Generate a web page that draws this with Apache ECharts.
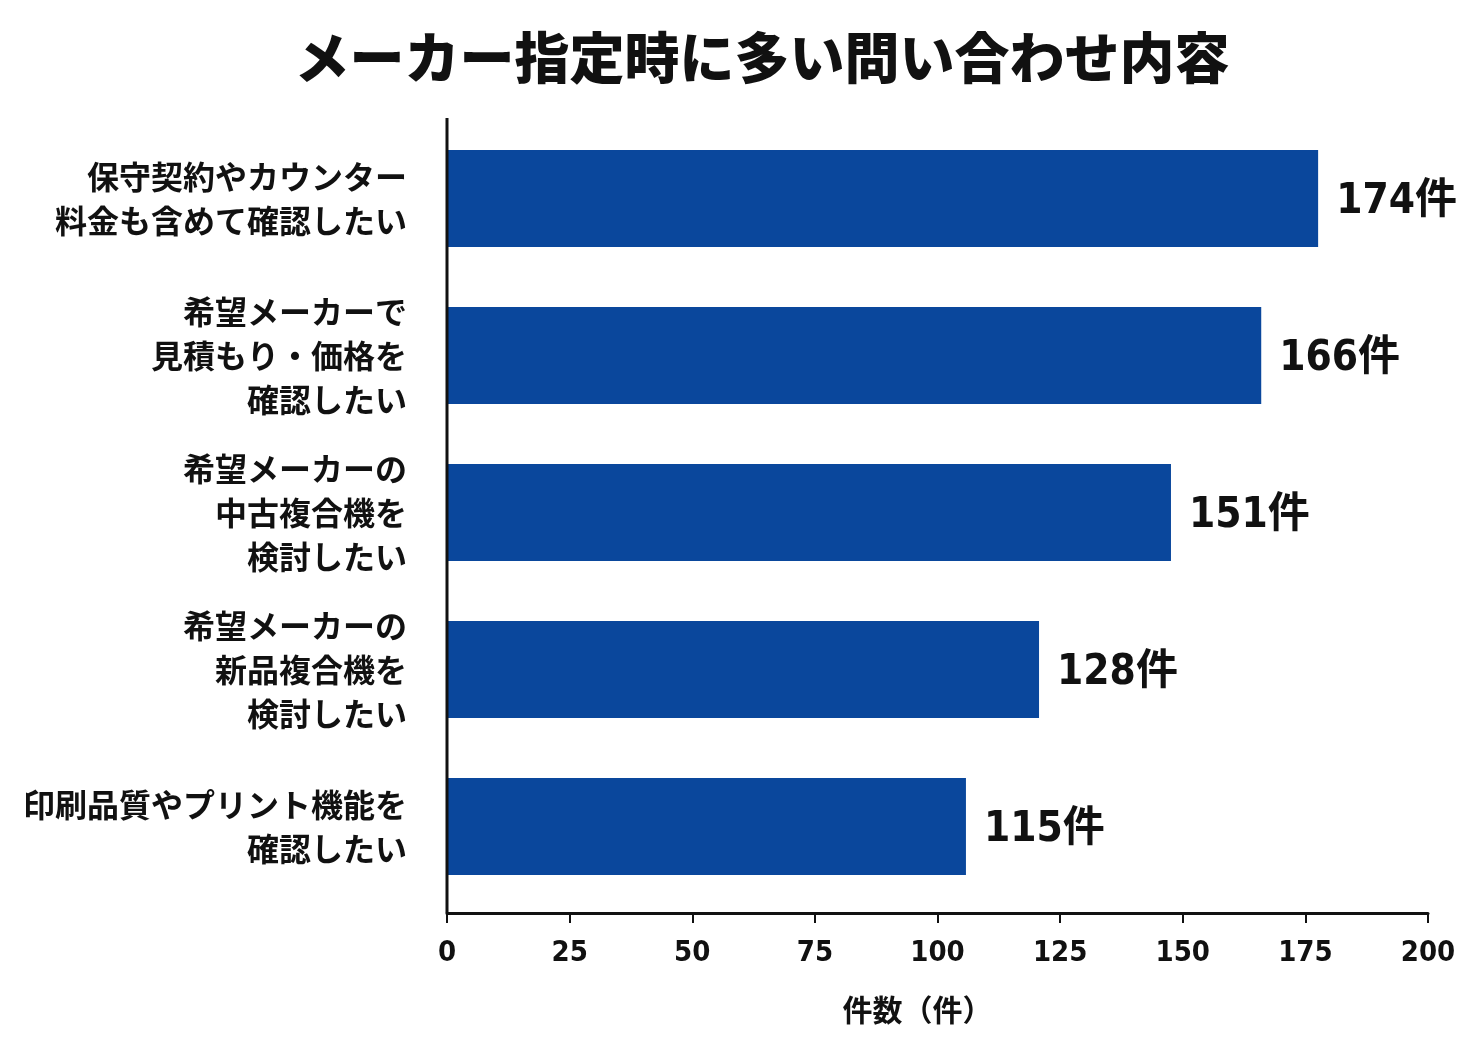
<!DOCTYPE html>
<html><head><meta charset="utf-8">
<script src="https://cdn.jsdelivr.net/npm/echarts@6/dist/echarts.min.js"></script>
<style>html,body{margin:0;padding:0;background:#fff}#c{width:1484px;height:1060px}</style>
</head><body><div id="c"></div>
<script>
const categories = [
  '保守契約やカウンター\n料金も含めて確認したい',
  '希望メーカーで\n見積もり・価格を\n確認したい',
  '希望メーカーの\n中古複合機を\n検討したい',
  '希望メーカーの\n新品複合機を\n検討したい',
  '印刷品質やプリント機能を\n確認したい'
];
const barValues = [177.6, 166, 147.6, 120.7, 105.8];
const countLabels = [174, 166, 151, 128, 115];
const xTicks = [0, 25, 50, 75, 100, 125, 150, 175, 200];

const jp = '"Noto Sans CJK JP", "Noto Sans", sans-serif';
const num = '"DejaVu Sans Condensed", "Noto Sans CJK JP", sans-serif';
const chart = echarts.init(document.getElementById('c'));
chart.setOption({
  backgroundColor: '#ffffff',
  animation: false,
  title: {
    text: 'メーカー指定時に多い問い合わせ内容',
    left: 757, top: 25, textAlign: 'center',
    textStyle: {fontFamily: jp, fontSize: 55, fontWeight: 900, color: '#111'}
  },
  grid: {left: 447, right: 56, top: 120, height: 785, containLabel: false},
  xAxis: {
    type: 'value', min: xTicks[0], max: xTicks[xTicks.length - 1], interval: 25,
    offset: 8,
    name: '件数（件）', nameLocation: 'middle', nameGap: 82,
    nameTextStyle: {fontFamily: jp, fontSize: 30, fontWeight: 'bold', color: '#111', padding: [0, 40, 0, 0]},
    axisLine: {show: true, lineStyle: {color: '#111', width: 3}},
    axisTick: {show: true, length: 10, lineStyle: {color: '#111', width: 2}},
    axisLabel: {margin: 26, fontFamily: num, fontSize: 29, fontWeight: 'bold', color: '#111'},
    splitLine: {show: false}
  },
  yAxis: {
    type: 'category', data: categories, inverse: true,
    axisLine: {show: false}, axisTick: {show: false},
    axisLabel: {margin: 40, fontFamily: jp, fontSize: 32, fontWeight: 'bold', color: '#111', lineHeight: 44, align: 'right'}
  },
  graphic: [{
    type: 'line', shape: {x1: 447, y1: 118, x2: 447, y2: 913},
    style: {stroke: '#111', lineWidth: 3}, z: 10
  }],
  series: [{
    type: 'bar', data: barValues, barWidth: 97,
    itemStyle: {color: '#0a479c'},
    label: {
      show: true, position: 'right', distance: 18, offset: [0, 4],
      formatter: p => countLabels[p.dataIndex] + '件',
      fontFamily: num, fontSize: 42, fontWeight: 'bold', color: '#111'
    }
  }]
});
</script></body></html>
